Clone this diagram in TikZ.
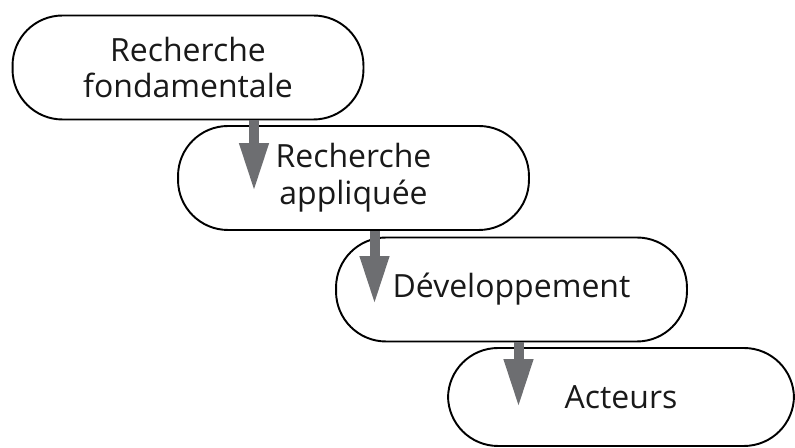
\documentclass[tikz,border=0pt]{standalone}
\usepackage{fontspec}
\setmainfont{Open Sans}
\usepackage{xcolor}
\usetikzlibrary{arrows.meta}
\definecolor{arrowgray}{HTML}{6D6E71}

\begin{document}
\begin{tikzpicture}[x=0.02cm, y=-0.02cm,
        stage/.style={draw, line width=1.1pt, rounded corners=1cm,
            minimum width=7.02cm, minimum height=2.08cm, align=center,
            font=\fontsize{18.2}{21}\selectfont, text=black!90},
        flow/.style={draw=arrowgray, line width=0.2cm,
            -{Triangle[length=0.98cm, width=0.54cm]}}]
                        \useasboundingbox (0, 0) rectangle (795, 448);

                        \node (1) at (188, 67.5) [stage] {Recherche\\fondamentale};
                        \node (2) at (353.5, 178) [stage] {Recherche\\appliquée};
                        \node (3) at (511.5, 289.5) [stage] {Développement};
                        \node (4) at (621, 397) [stage, minimum width=6.92cm, minimum height=1.96cm] {Acteurs};

                        \coordinate (t1) at (254, 192);
                        \coordinate (t2) at (374.5, 305);
                        \coordinate (t3) at (518.5, 408);

                        \draw[flow] (t1 |- 1.south) -- (t1);
                        \draw[flow] (t2 |- 2.south) -- (t2);
                        \draw[flow] (t3 |- 3.south) -- (t3);
                    \end{tikzpicture}
\end{document}
